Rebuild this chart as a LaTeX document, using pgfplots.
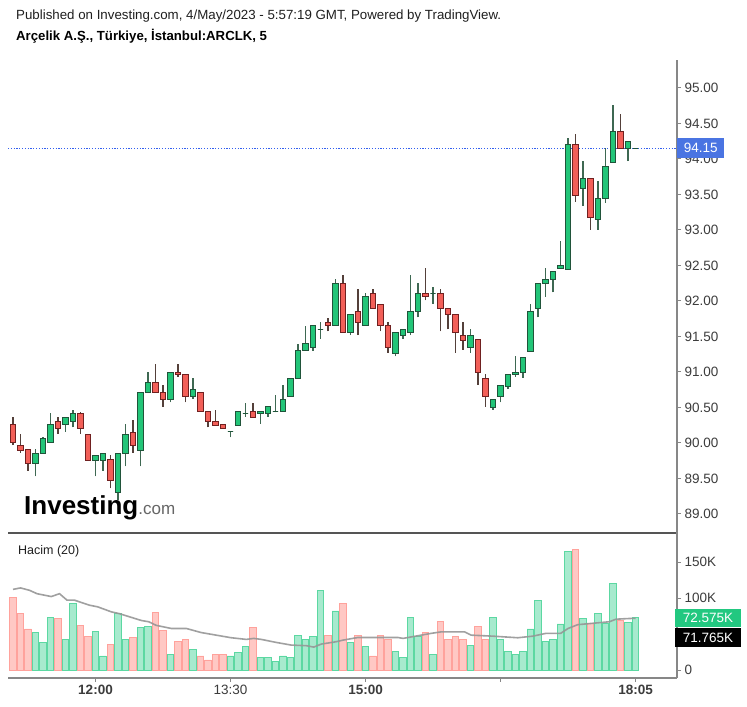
\documentclass[border=0pt]{standalone}
\usepackage{pgfplots}
\pgfplotsset{compat=1.18}
\usepackage{fontspec}
\setmainfont{Liberation Sans}
\definecolor{GF}{RGB}{34,197,120}
\definecolor{GD}{RGB}{32,84,58}
\definecolor{GW}{RGB}{62,104,82}
\definecolor{RF}{RGB}{242,95,88}
\definecolor{RD}{RGB}{112,32,32}
\definecolor{RW}{RGB}{84,64,58}
\definecolor{VGF}{RGB}{167,234,206}
\definecolor{VGD}{RGB}{92,216,162}
\definecolor{VRF}{RGB}{255,200,196}
\definecolor{VRD}{RGB}{255,162,156}
\definecolor{MAC}{RGB}{150,150,150}
\definecolor{AXC}{RGB}{135,135,135}
\definecolor{SEP}{RGB}{85,85,85}
\definecolor{LAB}{RGB}{60,60,60}
\definecolor{PB}{RGB}{74,116,226}
\definecolor{DASH}{RGB}{50,95,240}
\definecolor{VG}{RGB}{34,200,128}
% candle: position, body style, wick colour, low, body low, body high, high
\newcommand{\cdl}[7]{%
  \pgfmathsetmacro{\xl}{#1-0.36}%
  \pgfmathsetmacro{\xr}{#1+0.36}%
  \edef\candletmp{%
    \noexpand\addplot[#3, line width=1.1bp, forget plot] coordinates {(#1,#4) (#1,#7)};%
    \noexpand\addplot[#2, line width=0.8bp, forget plot] coordinates {(\xl,#5) (\xr,#5) (\xr,#6) (\xl,#6)} --cycle;%
  }\candletmp}
\newcommand{\cG}[5]{\cdl{#1}{draw=GD,fill=GF}{GW}{#2}{#3}{#4}{#5}}
\newcommand{\cR}[5]{\cdl{#1}{draw=RD,fill=RF}{RW}{#2}{#3}{#4}{#5}}
\begin{document}
\begin{tikzpicture}[x=1bp,y=1bp]
\useasboundingbox (0,0) rectangle (747,707);
\fill[white] (0,0) rectangle (747,707);
\node[anchor=base west, inner sep=0, font=\fontsize{13.3bp}{15bp}\selectfont, text=black!88] at (16,687.5) {Published on Investing.com, 4/May/2023 - 5:57:19 GMT, Powered by TradingView.};
\node[anchor=base west, inner sep=0, font=\fontsize{13.2bp}{15bp}\selectfont\bfseries, text=black] at (16,666.3) {Arçelik A.Ş., Türkiye, İstanbul:ARCLK, 5};
\node[anchor=base west, inner sep=0] at (24,192) {{\fontsize{26bp}{26bp}\selectfont\bfseries Investing}{\fontsize{17bp}{17bp}\selectfont\color{black!60}.com}};
\node[anchor=base west, inner sep=0, font=\fontsize{12.5bp}{14bp}\selectfont, text=black!88] at (18,152) {Hacim (20)};

\begin{axis}[at={(8bp,174bp)}, anchor=south west, scale only axis,
  width=669bp, height=473bp,
  xmin=-0.667, xmax=88.53, ymin=88.732, ymax=95.394,
  axis x line*=bottom, axis y line*=right,
  x axis line style={draw=SEP, line width=1.2bp},
  y axis line style={draw=AXC, line width=1.4bp},
  xtick=\empty,
  ytick={89,89.5,90,90.5,91,91.5,92,92.5,93,93.5,94,94.5,95},
  yticklabel style={/pgf/number format/fixed, /pgf/number format/fixed zerofill, /pgf/number format/precision=2, /pgf/number format/assume math mode=true, font=\fontsize{13.5bp}{15bp}\selectfont, text=LAB},
  tick align=outside, major tick length=4bp,
  ytick style={draw=AXC, line width=1bp},
  clip=false]
\addplot[DASH, line width=0.9bp, dash pattern=on 1.2bp off 1.6bp] coordinates {(-0.667,94.15) (88.53,94.15)};
\cR{0}{89.97}{90.01}{90.26}{90.37}
\cR{1}{89.86}{89.90}{89.96}{90.13}
\cR{2}{89.61}{89.71}{89.91}{89.92}
\cG{3}{89.53}{89.71}{89.86}{89.91}
\cG{4}{89.85}{89.86}{90.07}{90.08}
\cG{5}{90.01}{90.01}{90.26}{90.42}
\cR{6}{90.13}{90.21}{90.31}{90.37}
\cG{7}{90.16}{90.26}{90.36}{90.37}
\cG{8}{90.22}{90.31}{90.42}{90.47}
\cR{9}{90.13}{90.20}{90.42}{90.43}
\cR{10}{89.76}{89.76}{90.12}{90.12}
\cG{11}{89.53}{89.76}{89.82}{89.82}
\cG{12}{89.61}{89.76}{89.86}{89.86}
\cR{13}{89.36}{89.47}{89.77}{89.83}
\cG{14}{89.20}{89.31}{89.86}{89.86}
\cG{15}{89.67}{89.86}{90.12}{90.27}
\cR{16}{89.86}{89.96}{90.15}{90.32}
\cG{17}{89.67}{89.90}{90.71}{90.71}
\cG{18}{90.71}{90.71}{90.86}{91.00}
\cR{19}{90.71}{90.71}{90.86}{91.11}
\cR{20}{90.51}{90.61}{90.71}{90.81}
\cG{21}{90.57}{90.61}{91.00}{91.00}
\cR{22}{90.93}{90.96}{91.00}{91.11}
\cR{23}{90.57}{90.66}{90.96}{90.96}
\cG{24}{90.62}{90.66}{90.76}{90.91}
\cR{25}{90.45}{90.45}{90.71}{90.71}
\cR{26}{90.22}{90.31}{90.45}{90.45}
\cR{27}{90.25}{90.25}{90.31}{90.46}
\cR{28}{90.21}{90.21}{90.26}{90.26}
\cG{29}{90.08}{90.16}{90.16}{90.16}
\cG{30}{90.25}{90.25}{90.45}{90.45}
\cG{31}{90.37}{90.42}{90.42}{90.56}
\cR{32}{90.36}{90.36}{90.45}{90.56}
\cG{33}{90.27}{90.42}{90.45}{90.45}
\cG{34}{90.37}{90.42}{90.51}{90.51}
\cG{35}{90.43}{90.45}{90.45}{90.68}
\cG{36}{90.45}{90.45}{90.62}{90.81}
\cG{37}{90.66}{90.66}{90.91}{90.91}
\cG{38}{90.91}{90.91}{91.30}{91.40}
\cG{39}{91.30}{91.30}{91.40}{91.65}
\cG{40}{91.30}{91.35}{91.65}{91.65}
\cG{41}{91.47}{91.60}{91.60}{91.70}
\cR{42}{91.57}{91.65}{91.70}{91.76}
\cG{43}{91.65}{91.65}{92.25}{92.31}
\cR{44}{91.56}{91.56}{92.25}{92.36}
\cG{45}{91.52}{91.56}{91.81}{91.81}
\cR{46}{91.52}{91.70}{91.86}{92.17}
\cG{47}{91.65}{91.65}{92.06}{92.11}
\cR{48}{91.90}{91.90}{92.11}{92.17}
\cR{49}{91.57}{91.65}{91.95}{91.95}
\cR{50}{91.27}{91.35}{91.65}{91.71}
\cG{51}{91.22}{91.26}{91.56}{91.56}
\cG{52}{91.47}{91.51}{91.60}{91.60}
\cG{53}{91.52}{91.56}{91.86}{92.36}
\cG{54}{91.77}{91.86}{92.11}{92.25}
\cR{55}{92.01}{92.06}{92.11}{92.47}
\cG{56}{91.96}{92.11}{92.11}{92.20}
\cR{57}{91.57}{91.90}{92.11}{92.17}
\cR{58}{91.60}{91.81}{91.90}{91.90}
\cR{59}{91.27}{91.56}{91.81}{91.81}
\cR{60}{91.31}{91.45}{91.51}{91.71}
\cG{61}{91.27}{91.35}{91.51}{91.60}
\cR{62}{90.82}{90.99}{91.46}{91.46}
\cR{63}{90.51}{90.66}{90.91}{90.97}
\cG{64}{90.47}{90.50}{90.62}{90.62}
\cG{65}{90.57}{90.66}{90.81}{90.81}
\cG{66}{90.76}{90.80}{90.96}{90.96}
\cG{67}{90.93}{90.96}{91.00}{91.22}
\cG{68}{90.92}{90.99}{91.21}{91.21}
\cG{69}{91.29}{91.29}{91.86}{91.96}
\cG{70}{91.77}{91.90}{92.25}{92.25}
\cG{71}{92.06}{92.25}{92.30}{92.46}
\cG{72}{92.12}{92.30}{92.41}{92.41}
\cG{73}{92.46}{92.46}{92.50}{92.85}
\cG{74}{92.45}{92.45}{94.21}{94.29}
\cR{75}{93.40}{93.49}{94.21}{94.35}
\cG{76}{93.34}{93.58}{93.72}{93.97}
\cR{77}{93.00}{93.17}{93.72}{93.72}
\cG{78}{93.00}{93.15}{93.45}{93.69}
\cG{79}{93.38}{93.45}{93.90}{94.15}
\cG{80}{93.95}{93.95}{94.39}{94.76}
\cR{81}{94.15}{94.15}{94.39}{94.64}
\cG{82}{93.97}{94.15}{94.25}{94.25}
\cG{83}{94.15}{94.15}{94.15}{94.15}
\node[fill=PB, text=white, anchor=west, inner sep=0, minimum height=20bp, minimum width=47bp, font=\fontsize{13.5bp}{15bp}\selectfont] at (axis cs:88.53,94.15) {94.15};
\end{axis}

\begin{axis}[at={(8bp,29bp)}, anchor=south west, scale only axis,
  width=669bp, height=145bp,
  xmin=-0.667, xmax=88.53, ymin=-11.1, ymax=190.3,
  axis x line*=bottom, axis y line*=right,
  x axis line style={draw=AXC, line width=1.3bp},
  y axis line style={draw=AXC, line width=1.4bp},
  xtick={11,29,47,65,83},
  xticklabels={\textbf{12:00}, 13:30, \textbf{15:00}, {}, \textbf{18:05}},
  ytick={0,100,150}, yticklabels={0,100K,150K},
  tick label style={font=\fontsize{13.5bp}{15bp}\selectfont, text=LAB},
  tick align=outside, major tick length=4bp,
  tick style={draw=AXC, line width=1bp},
  clip=false]
\addplot[ybar, bar width=6.6bp, bar shift=0pt, fill=VGF, draw=VGD, line width=0.8bp] coordinates {
(3,52) (4,38) (5,73) (7,42) (8,93) (11,54) (12,19.5) (14,78) (15,43) (17,59) (18,61) (21,22) (24,28) (29,19.5) (30,24) (31,33) (33,17.6) (34,17.6) (35,12.5) (36,19.5) (37,17.6) (38,48.6) (39,43) (40,47) (41,111) (43,82) (45,38) (47,33) (51,26) (52,17.6) (53,72.7) (54,46) (56,21) (61,34) (64,72.7) (65,42) (66,26) (67,22) (68,26) (69,57) (70,96) (71,40) (72,43) (73,64) (74,165) (76,71) (78,78) (79,65) (80,120) (82,65.7) (83,72.6)};
\addplot[ybar, bar width=6.6bp, bar shift=0pt, fill=VRF, draw=VRD, line width=0.8bp] coordinates {
(0,101) (1,78) (2,57) (6,71) (9,62.5) (10,47) (13,36) (16,45) (19,80) (20,55.5) (22,40) (23,43) (25,19.5) (26,14) (27,21) (28,22) (32,59) (42,48.6) (44,92) (46,48.6) (48,19.5) (49,48.6) (50,43) (55,52) (57,68) (58,42) (59,47) (60,42) (62,61) (63,42) (75,167) (77,65) (81,69.4)};
\addplot[MAC, line width=1.6bp, opacity=0.9] coordinates {
(0,112) (1,114) (2.2,110.7) (3.2,106) (5.1,102) (6.2,106) (7.2,97) (8.2,97) (10.2,90) (11.3,87.7) (13.1,80.8) (14.1,78.5) (15.1,75.3) (17.1,68.8) (18.1,67) (19.1,62) (21.1,57.7) (23.1,57.7) (25.1,52) (27.1,48.4) (29.1,44.8) (31.1,42.5) (32.1,43.9) (33.1,42.5) (35.1,38.3) (37.1,34.6) (39.1,33.8) (40.1,31.8) (41.1,36) (43.1,39.3) (44,41.5) (46,45.2) (51.3,45.2) (52,43.9) (55.7,50.8) (57.1,53) (60.2,53) (61.1,48.4) (64,47) (67.3,44.8) (69.3,47) (71,50.8) (73,50.8) (74,57.7) (75.3,63) (77,64.6) (79.5,67) (80.4,70.6) (82.1,71.5) (83,71.8)};
\end{axis}
\node[fill=VG, text=white, inner sep=0, minimum width=66bp, minimum height=18bp, font=\fontsize{13.5bp}{15bp}\selectfont] at (708,88.7) {72.575K};
\node[fill=black, text=white, inner sep=0, minimum width=66bp, minimum height=19bp, font=\fontsize{13.5bp}{15bp}\selectfont] at (708,69.2) {71.765K};
\end{tikzpicture}
\end{document}
